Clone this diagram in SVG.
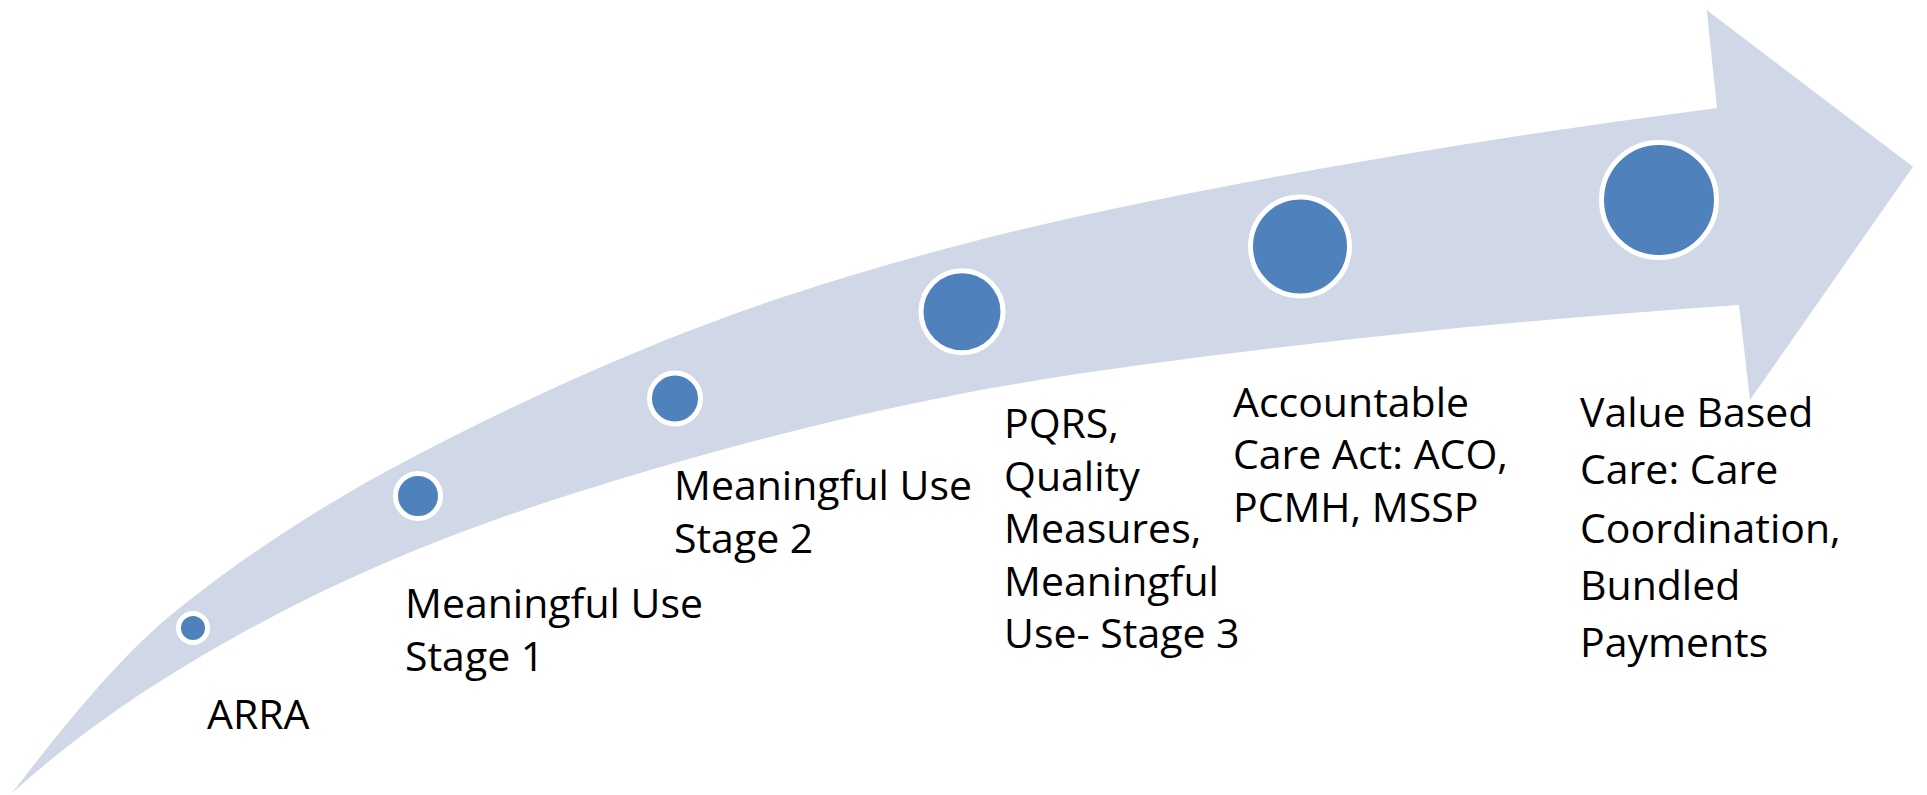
<svg xmlns="http://www.w3.org/2000/svg" width="1927" height="795" viewBox="0 0 1927 795">
<style>
.band{fill:#D0D8E8;stroke:none}
.dot{fill:#4F81BD;stroke:#FFFFFF;stroke-width:5}
.lbl{font-family:"Open Sans","Noto Sans","Liberation Sans",sans-serif;font-size:41px;fill:#000000}
</style>
<rect x="0" y="0" width="1927" height="795" fill="#FFFFFF"/>
<g id="arrow">
<path class="band" d="M 12,793 C 67,721.5 122,654 177,610 C 257,546 337,496.6 417,455 C 539,391.6 661,337.3 783,297 C 894.3,260.3 1005.7,231.4 1117,208 C 1317,166 1517,134 1717,108 L 1706.7,10 L 1913,166.7 L 1750,400 L 1739,305 C 1587,315.6 1435,328.8 1283,347 C 1175.3,359.9 1067.7,373.5 960,394 C 845.7,415.7 731.3,445.7 617,480 C 489,518.4 361,566.3 233,638 C 159.3,679.3 85.7,726.7 12,793 Z"/>
</g>
<g id="connectors"></g>
<g id="node-arra">
<circle class="dot" cx="193" cy="628" r="14.5"/>
<text class="lbl" x="207" y="729">ARRA</text>
</g>
<g id="node-mu1">
<circle class="dot" cx="418" cy="496" r="22.5"/>
<text class="lbl" x="405" y="618.3">Meaningful Use</text>
<text class="lbl" x="405" y="670.7">Stage 1</text>
</g>
<g id="node-mu2">
<circle class="dot" cx="675" cy="398.5" r="25.5"/>
<text class="lbl" x="674" y="500">Meaningful Use</text>
<text class="lbl" x="674" y="552.7">Stage 2</text>
</g>
<g id="node-pqrs">
<circle class="dot" cx="962" cy="311.7" r="41"/>
<text class="lbl" x="1004" y="438.3">PQRS,</text>
<text class="lbl" x="1004" y="490.7">Quality</text>
<text class="lbl" x="1004" y="542.7">Measures,</text>
<text class="lbl" x="1004" y="596">Meaningful</text>
<text class="lbl" x="1004" y="648.3">Use- Stage 3</text>
</g>
<g id="node-aca">
<circle class="dot" cx="1300" cy="246.5" r="49.5"/>
<text class="lbl" x="1233" y="416.7">Accountable</text>
<text class="lbl" x="1233" y="469.3">Care Act: ACO,</text>
<text class="lbl" x="1233" y="521.7">PCMH, MSSP</text>
</g>
<g id="node-vbc">
<circle class="dot" cx="1659" cy="200" r="57.5"/>
<text class="lbl" x="1580" y="426.7">Value Based</text>
<text class="lbl" x="1580" y="484">Care: Care</text>
<text class="lbl" x="1580" y="543.3">Coordination,</text>
<text class="lbl" x="1580" y="600">Bundled</text>
<text class="lbl" x="1580" y="656.7">Payments</text>
</g>
</svg>
